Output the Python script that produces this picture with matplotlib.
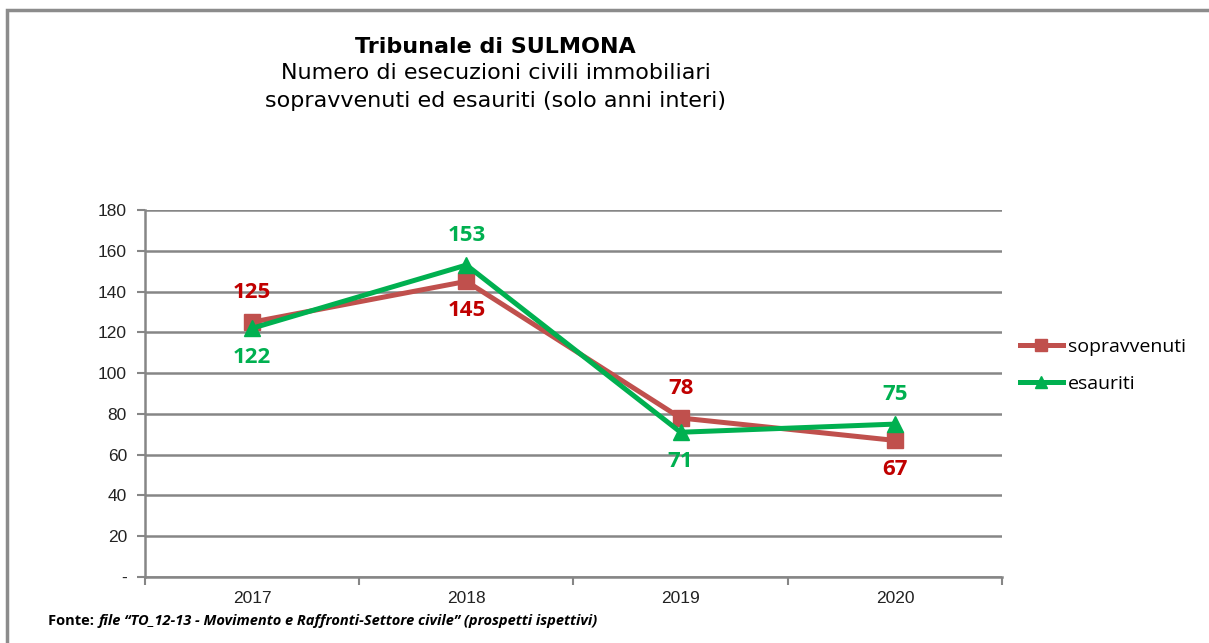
import matplotlib.pyplot as plt
from matplotlib.patches import Rectangle
from matplotlib.ticker import FixedLocator, FuncFormatter

years = ['2017', '2018', '2019', '2020']
sopravvenuti = [125, 145, 78, 67]
esauriti = [122, 153, 71, 75]
y_ticks = [0, 20, 40, 60, 80, 100, 120, 140, 160, 180]

red = '#C0504D'
red_lbl = '#C00000'
green = '#00B050'
grey = '#868686'

fig = plt.figure(figsize=(12.09, 6.43), dpi=100)
fig.patches.append(Rectangle((0.006, -0.1), 1.2, 1.085, transform=fig.transFigure,
                             fill=False, edgecolor='#8c8c8c', linewidth=2.5))

ax = fig.add_axes([0.1199, 0.1026, 0.7089, 0.5708])
x = range(len(years))

ax.plot(x, sopravvenuti, color=red, lw=3.6, marker='s', ms=11, label='sopravvenuti', zorder=3)
ax.plot(x, esauriti, color=green, lw=3.6, marker='^', ms=11, label='esauriti', zorder=4)

# data labels: one series above, the other below
lbl_font = dict(family='Open Sans', weight='bold', fontsize=16)
for i in x:
    s, e = sopravvenuti[i], esauriti[i]
    s_off = 21 if s >= e else -21
    ax.annotate(str(s), (i, s), xytext=(0, s_off), textcoords='offset points',
                ha='center', va='center', color=red_lbl, **lbl_font)
    ax.annotate(str(e), (i, e), xytext=(0, -s_off), textcoords='offset points',
                ha='center', va='center', color=green, **lbl_font)

ax.set_xlim(-0.5, 3.5)
ax.set_ylim(0, 180)
ax.set_yticks(y_ticks)
ax.yaxis.set_major_formatter(FuncFormatter(lambda v, p: '-' if v == 0 else f'{v:.0f}'))
ax.set_xticks(list(x))
ax.set_xticklabels(years)
ax.xaxis.set_minor_locator(FixedLocator([-0.5, 0.5, 1.5, 2.5, 3.5]))
ax.tick_params(axis='x', which='major', length=0, pad=10, labelsize=12.5, labelcolor='#222222')
ax.tick_params(axis='x', which='minor', length=6, width=1.5, color=grey)
ax.tick_params(axis='y', length=6, width=1.5, color=grey, labelsize=12.5, pad=7,
               labelcolor='#222222')
for lab in ax.get_xticklabels() + ax.get_yticklabels():
    lab.set_family('Liberation Sans')

ax.grid(axis='y', color=grey, lw=1.8)
ax.set_axisbelow(True)
for side in ['top', 'right']:
    ax.spines[side].set_visible(False)
for side in ['left', 'bottom']:
    ax.spines[side].set_color(grey)
    ax.spines[side].set_linewidth(1.8)

leg = fig.legend(loc='center left', bbox_to_anchor=(0.8437, 0.4316), frameon=False,
                 prop={'family': 'Open Sans', 'size': 14}, handlelength=2.2, borderpad=0,
                 borderaxespad=0, handletextpad=0.25, labelspacing=0.95, markerscale=0.85)

fig.text(0.41, 0.927, 'Tribunale di SULMONA', ha='center', va='center',
         fontsize=16, fontweight='bold', family='DejaVu Sans')
fig.text(0.41, 0.886, 'Numero di esecuzioni civili immobiliari', ha='center', va='center',
         fontsize=16, family='DejaVu Sans')
fig.text(0.41, 0.843, 'sopravvenuti ed esauriti (solo anni interi)', ha='center', va='center',
         fontsize=16, family='DejaVu Sans')

# footnote: plain "Fonte:" then italic rest
t1 = fig.text(0.04, 0.034, 'Fonte: ', fontsize=10.5, fontweight='bold', family='Open Sans',
              va='center')
fig.canvas.draw()
bb = t1.get_window_extent()
x2 = bb.x1 / fig.bbox.width
fig.text(x2, 0.034, 'file \u201cTO_12-13 - Movimento e Raffronti-Settore civile\u201d (prospetti ispettivi)',
         fontsize=10.5, fontweight='bold', style='italic', family='Open Sans', va='center')

fig.savefig('out.png', dpi=100)
